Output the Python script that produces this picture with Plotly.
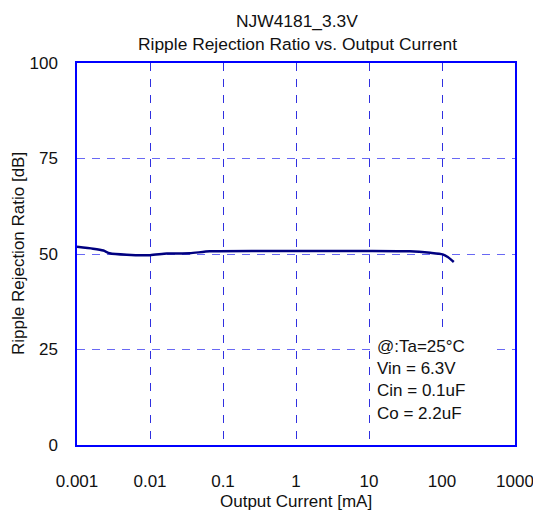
import plotly.graph_objects as go

# Data
current_mA = [0.001, 0.00166, 0.0023, 0.0028, 0.0048, 0.01, 0.017, 0.035, 0.066,
              0.32, 1, 10, 36, 69, 102, 120, 145]
rrr_dB = [51.9, 51.4, 50.9, 50.2, 49.8, 49.7, 50.1, 50.2, 50.7,
          50.8, 50.8, 50.8, 50.7, 50.3, 49.9, 49.2, 47.9]

x_tickvals = [0.001, 0.01, 0.1, 1, 10, 100, 1000]
x_ticktext = ["0.001", "0.01", "0.1", "1", "10", "100", "1000"]
y_tickvals = [0, 25, 50, 75, 100]

title_lines = ["NJW4181_3.3V", "Ripple Rejection Ratio vs. Output Current"]
cond_lines = ["@:Ta=25°C", "Vin = 6.3V", "Cin = 0.1uF", "Co = 2.2uF"]

FONT = "Liberation Sans, Arial, sans-serif"
FS = 17

W, H = 533, 514
L, R, T, B = 77, 515, 63, 445

fig = go.Figure()
fig.add_trace(go.Scatter(
    x=current_mA, y=rrr_dB, mode="lines",
    line=dict(color="#000080", width=2.5, shape="spline", smoothing=0.6),
    showlegend=False, hoverinfo="skip"))

fig.update_layout(
    width=W, height=H,
    margin=dict(l=L, r=W - R, t=T, b=H - B, pad=0),
    paper_bgcolor="white", plot_bgcolor="white",
    font=dict(family=FONT, size=FS, color="#111111"),
    showlegend=False,
)

fig.update_xaxes(
    type="log", range=[-3, 3], automargin=False,
    tickvals=x_tickvals, ticktext=x_ticktext, ticklabeloverflow="allow",
    showgrid=True, gridcolor="#3030e0", gridwidth=1, griddash="8px,8px",
    showline=True, linecolor="#0000ff", linewidth=1.5, mirror=True,
    ticks="", ticklabelstandoff=20, zeroline=False,
)
fig.update_yaxes(
    range=[0, 100], tickvals=y_tickvals, automargin=False,
    ticklabeloverflow="allow",
    showgrid=True, gridcolor="#6868f4", gridwidth=1, griddash="8px,7px",
    showline=True, linecolor="#0000ff", linewidth=1.5, mirror=True,
    ticks="", ticklabelstandoff=14, zeroline=False,
)

def px_x(p):
    return (p - L) / (R - L)

def px_y(p):
    return (B - p) / (B - T)

# white box behind the condition text
fig.add_shape(type="rect", xref="paper", yref="paper",
              x0=px_x(370), x1=px_x(490), y0=px_y(443), y1=px_y(332),
              fillcolor="white", line=dict(width=0), layer="above")

for i, txt in enumerate(title_lines):
    fig.add_annotation(text=txt, xref="paper", yref="paper",
                       x=px_x(297), y=px_y([21, 44][i]), xanchor="center", yanchor="middle",
                       showarrow=False, font=dict(size=17.4))

for i, txt in enumerate(cond_lines):
    fig.add_annotation(text=txt, xref="paper", yref="paper",
                       x=px_x(375), y=px_y([346.7, 368.3, 390, 413.3][i]),
                       xanchor="left", yanchor="middle",
                       showarrow=False, font=dict(size=FS))

# axis titles
fig.add_annotation(text="Output Current [mA]", xref="paper", yref="paper",
                   x=px_x(296), y=px_y(501), xanchor="center", yanchor="middle",
                   showarrow=False, font=dict(size=FS))
fig.add_annotation(text="Ripple Rejection Ratio [dB]", xref="paper", yref="paper",
                   x=px_x(18), y=px_y(254), xanchor="center", yanchor="middle",
                   textangle=-90, showarrow=False, font=dict(size=FS))

fig.write_html(
    "out.html",
    config={"displayModeBar": False},
    post_script="document.body.style.margin='0';document.body.style.overflow='hidden';",
)
